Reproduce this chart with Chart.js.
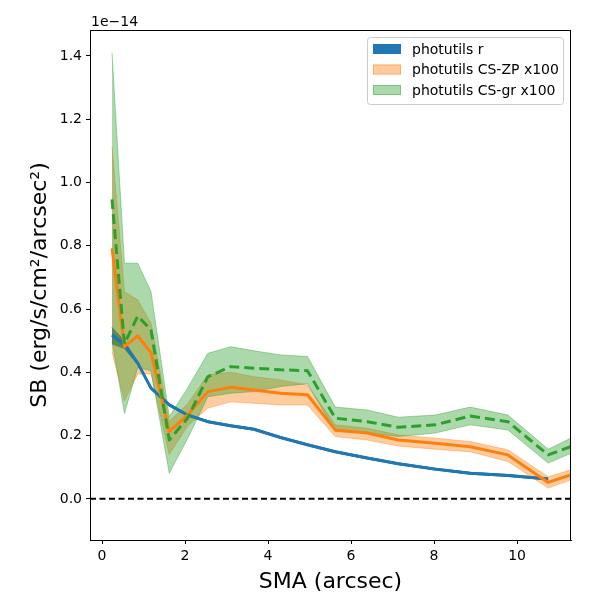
<!DOCTYPE html>
<html>
<head>
<meta charset="utf-8">
<script src="https://cdn.jsdelivr.net/npm/chart.js@4.4.1/dist/chart.umd.min.js"></script>
<style>
  html, body { margin: 0; padding: 0; background: #fff; }
  #wrap { width: 600px; height: 600px; }
</style>
</head>
<body>
<div id="wrap"><canvas id="sb-profile"></canvas></div>
<script>
// surface brightness profiles, values in units of 1e-14 erg/s/cm^2/arcsec^2
const sma = [0.24, 0.54, 0.86, 1.18, 1.62, 2.06, 2.55, 3.10, 3.66, 4.30, 4.95, 5.62, 6.39, 7.14, 8.03, 8.87, 9.78, 10.75, 11.80];

const rSB = [0.518, 0.487, 0.429, 0.350, 0.297, 0.265, 0.244, 0.231, 0.220, 0.194, 0.171, 0.149, 0.129, 0.111, 0.094, 0.081, 0.074, 0.063, null];
const rLo = [0.490, 0.475, 0.424, 0.346, 0.293, 0.262, 0.241, 0.228, 0.217, 0.191, 0.168, 0.146, 0.126, 0.108, 0.091, 0.078, 0.071, 0.060, null];
const rHi = [0.542, 0.499, 0.434, 0.354, 0.301, 0.268, 0.247, 0.234, 0.223, 0.197, 0.174, 0.152, 0.132, 0.114, 0.097, 0.084, 0.077, 0.066, null];

const zpSB = [0.792, 0.481, 0.515, 0.462, 0.213, 0.265, 0.339, 0.353, 0.344, 0.334, 0.329, 0.218, 0.208, 0.186, 0.176, 0.165, 0.139, 0.052, 0.098];
const zpLo = [0.465, 0.310, 0.395, 0.395, 0.140, 0.230, 0.287, 0.307, 0.302, 0.297, 0.297, 0.197, 0.186, 0.167, 0.157, 0.149, 0.118, 0.034, 0.084];
const zpHi = [1.113, 0.655, 0.629, 0.555, 0.245, 0.300, 0.392, 0.400, 0.386, 0.376, 0.360, 0.234, 0.223, 0.202, 0.192, 0.181, 0.155, 0.070, 0.112];

const grSB = [0.947, 0.490, 0.578, 0.534, 0.186, 0.255, 0.386, 0.418, 0.413, 0.408, 0.405, 0.255, 0.244, 0.226, 0.234, 0.262, 0.244, 0.139, 0.189];
const grLo = [0.500, 0.270, 0.415, 0.405, 0.081, 0.190, 0.323, 0.334, 0.339, 0.355, 0.364, 0.213, 0.208, 0.197, 0.208, 0.234, 0.218, 0.113, 0.172];
const grHi = [1.410, 0.745, 0.745, 0.655, 0.260, 0.350, 0.460, 0.481, 0.468, 0.455, 0.450, 0.290, 0.281, 0.258, 0.265, 0.290, 0.265, 0.157, 0.224];

const xTicks = [0, 2, 4, 6, 8, 10];
const yTicks = [0.0, 0.2, 0.4, 0.6, 0.8, 1.0, 1.2, 1.4];
const legendLabels = ['photutils r', 'photutils CS-ZP x100', 'photutils CS-gr x100'];
const offsetText = '1e\u221214';
const zeroLevel = 0;

const BLUE = '#1f77b4';
const ORANGE = '#ff7f0e';
const GREEN = '#2ca02c';
const ORANGE_BAND = 'rgba(255,127,14,0.4)';
const GREEN_BAND = 'rgba(44,160,44,0.4)';
const FONT = "'DejaVu Sans', sans-serif";

function pts(arr) {
    return sma.map((x, i) => ({ x: x, y: arr[i] }));
}

function band(label, hi, lo, color, order) {
    return [
        { label: label, data: pts(hi), fill: '+1', backgroundColor: color, borderColor: color,
          borderWidth: 1, pointRadius: 0, order: order, inLegend: true },
        { label: label + ' lo', data: pts(lo), fill: false, borderColor: color,
          borderWidth: 1, pointRadius: 0, order: order }
    ];
}

function line(label, vals, color, dash, order) {
    return { label: label, data: pts(vals), fill: false, borderColor: color, borderWidth: 3,
             borderDash: dash, borderJoinStyle: 'round', pointRadius: 0, order: order };
}

// frame, zero line, offset text and legend drawn like matplotlib
const extrasPlugin = {
    id: 'extras',
    beforeDatasetsDraw(chart) {
        const { ctx, chartArea: a, scales } = chart;
        const y0 = scales.y.getPixelForValue(zeroLevel);
        ctx.save();
        ctx.beginPath();
        ctx.rect(a.left, a.top, a.right - a.left, a.bottom - a.top);
        ctx.clip();
        ctx.strokeStyle = '#000';
        ctx.lineWidth = 2;
        ctx.setLineDash([6, 3.5]);
        ctx.beginPath();
        ctx.moveTo(a.left, y0);
        ctx.lineTo(a.right, y0);
        ctx.stroke();
        ctx.restore();
    },
    afterDraw(chart) {
        const { ctx, chartArea: a } = chart;
        ctx.save();
        ctx.strokeStyle = '#000';
        ctx.lineWidth = 1;
        ctx.strokeRect(a.left + 0.5, a.top + 0.5, a.right - a.left - 1, a.bottom - a.top);

        ctx.fillStyle = '#000';
        ctx.font = '14px ' + FONT;
        ctx.textAlign = 'left';
        ctx.textBaseline = 'alphabetic';
        ctx.fillText(offsetText, a.left + 1, a.top - 4);

        // legend box
        const w = 196, h = 67;
        const bx = a.right - 8 - w, by = a.top + 7;
        ctx.beginPath();
        ctx.roundRect(bx + 0.5, by + 0.5, w, h, 3);
        ctx.fillStyle = 'rgba(255,255,255,0.8)';
        ctx.fill();
        ctx.strokeStyle = '#cccccc';
        ctx.stroke();
        const fills = [BLUE, ORANGE_BAND, GREEN_BAND];
        ctx.textBaseline = 'middle';
        legendLabels.forEach((lab, i) => {
            const cy = by + 12 + i * 20.5;
            ctx.fillStyle = fills[i];
            ctx.fillRect(bx + 6, cy - 5, 28, 10);
            ctx.strokeStyle = fills[i];
            ctx.strokeRect(bx + 6.5, cy - 4.5, 27, 9);
            ctx.fillStyle = '#000';
            ctx.fillText(lab, bx + 45, cy + 1);
        });
        ctx.restore();
    }
};

const datasets = [].concat(
    band(legendLabels[0], rHi, rLo, BLUE, 10),
    band(legendLabels[1], zpHi, zpLo, ORANGE_BAND, 9),
    band(legendLabels[2], grHi, grLo, GREEN_BAND, 8),
    [line('r', rSB, BLUE, [], 3),
     line('zp', zpSB, ORANGE, [], 2),
     line('gr', grSB, GREEN, [10, 5], 1)]
);

const ctx = document.getElementById('sb-profile').getContext('2d');
const sbChart = new Chart(ctx, {
    type: 'line',
    data: { datasets: datasets },
    options: {
        responsive: true,
        maintainAspectRatio: false,
        animation: false,
        events: [],
        layout: { padding: { left: 0, top: 30, right: 29, bottom: 0 } },
        plugins: { legend: { display: false }, tooltip: { enabled: false } },
        scales: {
            x: {
                type: 'linear',
                min: -0.29,
                max: 11.3,
                afterFit(scale) { scale.height = 60; },
                afterBuildTicks(scale) { scale.ticks = xTicks.map(v => ({ value: v })); },
                grid: { drawOnChartArea: false, drawTicks: true, tickLength: 4, tickColor: '#000', tickWidth: 1 },
                border: { display: true, color: '#000', width: 1 },
                ticks: { color: '#000', padding: 4, font: { family: FONT, size: 14 }, maxRotation: 0,
                         callback: v => String(v) },
                title: { display: true, text: 'SMA (arcsec)', color: '#000',
                         font: { family: FONT, size: 22 }, padding: { top: 0, bottom: 5 } }
            },
            y: {
                type: 'linear',
                min: -0.13,
                max: 1.482,
                afterFit(scale) { scale.width = 90; },
                afterBuildTicks(scale) { scale.ticks = yTicks.map(v => ({ value: v })); },
                grid: { drawOnChartArea: false, drawTicks: true, tickLength: 4, tickColor: '#000', tickWidth: 1 },
                border: { display: true, color: '#000', width: 1 },
                ticks: { color: '#000', padding: 4, font: { family: FONT, size: 14 },
                         callback: v => v.toFixed(1) },
                title: { display: true, text: 'SB (erg/s/cm\u00b2/arcsec\u00b2)', color: '#000',
                         font: { family: FONT, size: 22 }, padding: { top: 27, bottom: 0 } }
            }
        }
    },
    plugins: [extrasPlugin]
});
</script>
</body>
</html>
